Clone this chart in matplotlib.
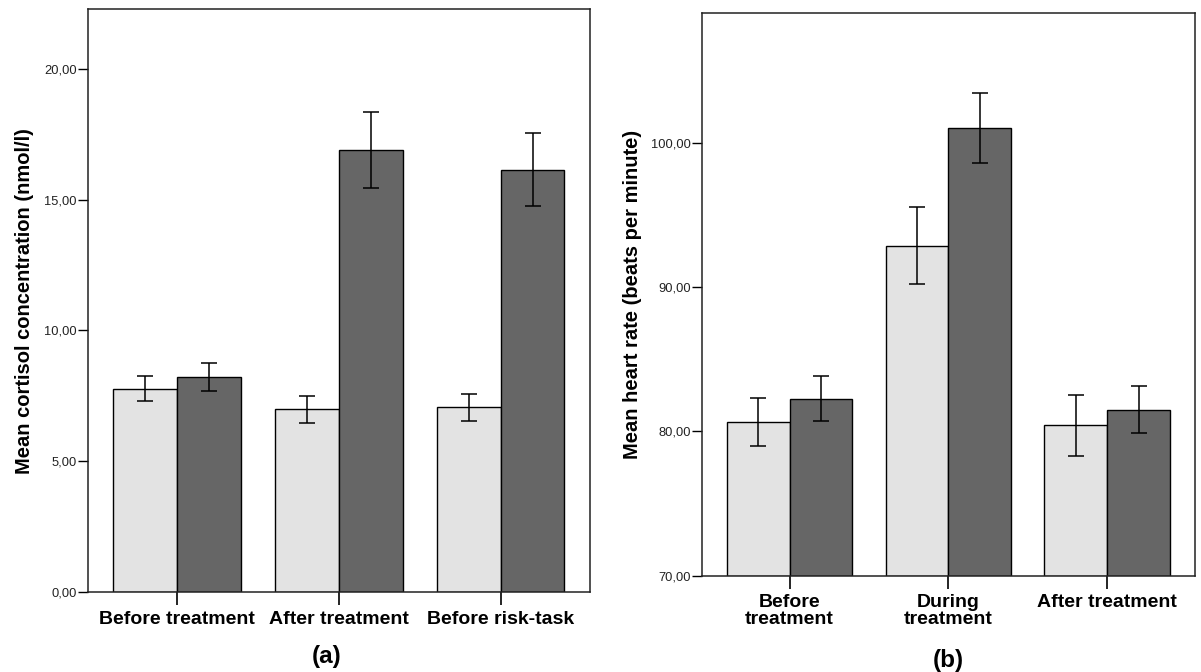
import matplotlib
matplotlib.use("Agg")
import matplotlib.pyplot as plt
import numpy as np

plt.rcParams['font.family'] = ['Liberation Sans', 'DejaVu Sans']

# Panel (a): cortisol
cort_categories = ["Before treatment", "After treatment", "Before risk-task"]
cort_light = [7.77, 6.99, 7.07]
cort_light_err = [0.48, 0.51, 0.52]
cort_dark = [8.22, 16.89, 16.14]
cort_dark_err = [0.53, 1.44, 1.39]
cort_ticks = [0, 5, 10, 15, 20]
cort_ticklabels = ["0,00", "5,00", "10,00", "15,00", "20,00"]

# Panel (b): heart rate
hr_categories = ["Before\ntreatment", "During\ntreatment", "After treatment"]
hr_light = [80.66, 92.87, 80.42]
hr_light_err = [1.66, 2.66, 2.10]
hr_dark = [82.27, 101.04, 81.49]
hr_dark_err = [1.58, 2.42, 1.63]
hr_ticks = [70, 80, 90, 100]
hr_ticklabels = ["70,00", "80,00", "90,00", "100,00"]

LIGHT = "#e3e3e3"
DARK = "#666666"
W = 0.395

fig = plt.figure(figsize=(12.01, 6.72), dpi=100)
axA = fig.add_axes([88/1201, 1-592.3/672, (590-88)/1201, (592.3-9.4)/672])
axB = fig.add_axes([702/1201, 1-575.6/672, (1195-702)/1201, (575.6-12.9)/672])


def draw(ax, cats, light, lerr, dark, derr, ylim, ticks, ticklabels, ylabel):
    x = np.arange(len(cats))
    base = ylim[0]
    ax.bar(x - W/2, np.array(light) - base, W, bottom=base, color=LIGHT,
           edgecolor="black", linewidth=1.0, zorder=2)
    ax.bar(x + W/2, np.array(dark) - base, W, bottom=base, color=DARK,
           edgecolor="black", linewidth=1.0, zorder=2)
    ax.errorbar(x - W/2, light, yerr=lerr, fmt="none", ecolor="black",
                elinewidth=1.1, capsize=5.5, capthick=1.1, zorder=3)
    ax.errorbar(x + W/2, dark, yerr=derr, fmt="none", ecolor="black",
                elinewidth=1.1, capsize=5.5, capthick=1.1, zorder=3)
    ax.set_xlim(-0.551, 2.553)
    ax.set_ylim(*ylim)
    ax.set_yticks(ticks)
    ax.set_yticklabels(ticklabels, fontsize=9.3, color="#222222")
    ax.set_xticks(x)
    ax.set_xticklabels(cats, fontsize=14, fontweight="bold",
                       linespacing=0.95)
    ax.tick_params(axis="y", length=7, width=1, direction="out", pad=1)
    ax.tick_params(axis="x", length=9.5, width=1.2, direction="out", pad=4)
    ax.set_ylabel(ylabel, fontsize=14.5, fontweight="bold")
    for s in ax.spines.values():
        s.set_linewidth(1.1)
        s.set_color("#222222")


draw(axA, cort_categories, cort_light, cort_light_err, cort_dark, cort_dark_err,
     (0, 22.26), cort_ticks, cort_ticklabels,
     "Mean cortisol concentration (nmol/l)")
draw(axB, hr_categories, hr_light, hr_light_err, hr_dark, hr_dark_err,
     (70, 109.0), hr_ticks, hr_ticklabels,
     "Mean heart rate (beats per minute)")

axA.yaxis.set_label_coords(-0.108, 0.5)
axB.yaxis.set_label_coords(-0.122, 0.5)

fig.text(327/1201, 1-657/672, "(a)", fontsize=17.5, fontweight="bold",
         ha="center", va="center")
fig.text(948/1201, 1-660/672, "(b)", fontsize=17.5, fontweight="bold",
         ha="center", va="center")

fig.savefig("out.png", dpi=100)
